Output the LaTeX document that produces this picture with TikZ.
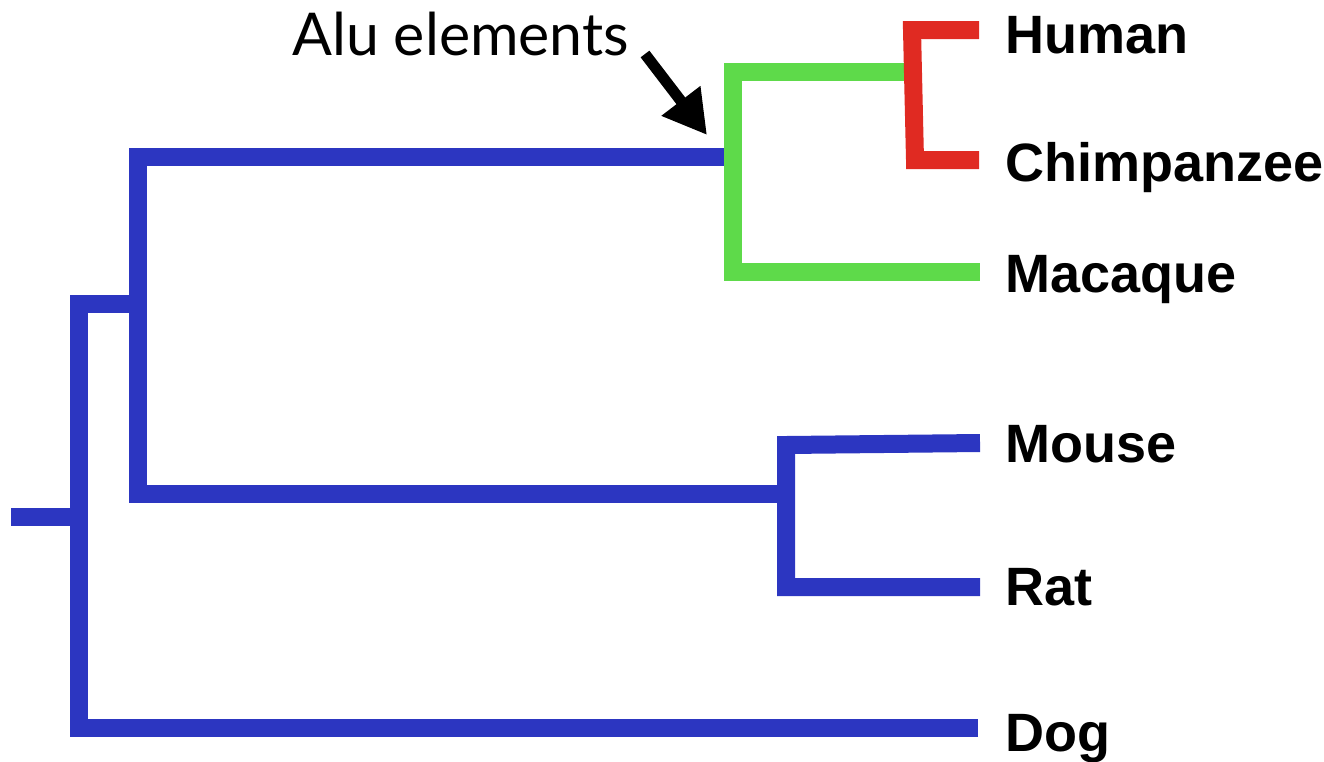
\documentclass[tikz,border=0pt]{standalone}
\usepackage{fontspec}
\usetikzlibrary{arrows.meta}
\newfontfamily\labfont{Liberation Sans}
\newfontfamily\notefont{Lato}
\definecolor{treeblue}{RGB}{44,54,193}
\definecolor{treegreen}{RGB}{94,218,74}
\definecolor{treered}{RGB}{224,42,34}
\tikzset{
  branch/.style={line width=18pt, line join=miter, line cap=butt},
  taxon/.style={anchor=base west, inner sep=0pt, font=\labfont\bfseries\fontsize{54}{60}\selectfont},
  note/.style={anchor=base west, inner sep=0pt, font=\notefont\fontsize{59}{65}\selectfont},
  pointer/.style={line width=11pt, -{Triangle[length=43pt,width=46pt]}}
}
\begin{document}
\begin{tikzpicture}[x=1pt, y=-1pt]
\useasboundingbox (0,0) rectangle (1324,761);

% leaf labels
\node[taxon] (human) at (1005,53) {Human};
\node[taxon] (chimp) at (1005,181) {Chimpanzee};
\node[taxon] (macaque) at (1005,292) {Macaque};
\node[taxon] (mouse) at (1005,462) {Mouse};
\node[taxon] (rat) at (1005,605) {Rat};
\node[taxon] (dog) at (1005,751) {Dog};

% branch tips and internal junctions
\coordinate (tHuman) at (979,30);
\coordinate (tChimp) at (979,160);
\coordinate (tMacaque) at (980,272);
\coordinate (tMouse) at (980,443);
\coordinate (tRat) at (980,587);
\coordinate (tDog) at (978,728);
\coordinate (root) at (11,517);
\coordinate (nDogTop) at (79,304);
\coordinate (nDogBot) at (79,728);
\coordinate (nMam) at (138,304);
\coordinate (nMamTop) at (138,157);
\coordinate (nMamBot) at (138,494);
\coordinate (nPrim) at (724,157);
\coordinate (nPrimTop) at (733,72);
\coordinate (nPrimBot) at (733,272);
\coordinate (nHC) at (913,72);
\coordinate (nHCTop) at (912,30);
\coordinate (nHCBot) at (915,160);
\coordinate (nRod) at (786,494);
\coordinate (nRodTop) at (786,445);
\coordinate (nRodBot) at (786,587);

% blue part of the tree
\begin{scope}[draw=treeblue]
  \draw[branch] (root) -- (nDogTop |- root);
  \draw[branch] (tDog) -- (nDogBot) -- (nDogTop) -- (nMam);
  \draw[branch] (nPrim) -- (nMamTop) -- (nMamBot) -- (nRod);
  \draw[branch] (tMouse) -- (nRodTop) -- (nRodBot) -- (tRat);
\end{scope}

% primates
\draw[branch, draw=treegreen] (nHC) -- (nPrimTop) -- (nPrimBot) -- (tMacaque);
\draw[branch, draw=treered] (tHuman) -- (nHCTop) -- (nHCBot) -- (tChimp);

% annotation
\node[note] (alu) at (292,55) {Alu elements};
\coordinate (aluTail) at (645,54);
\coordinate (aluTip) at (707,135);
\draw[pointer] (aluTail) -- (aluTip);
\end{tikzpicture}
\end{document}
